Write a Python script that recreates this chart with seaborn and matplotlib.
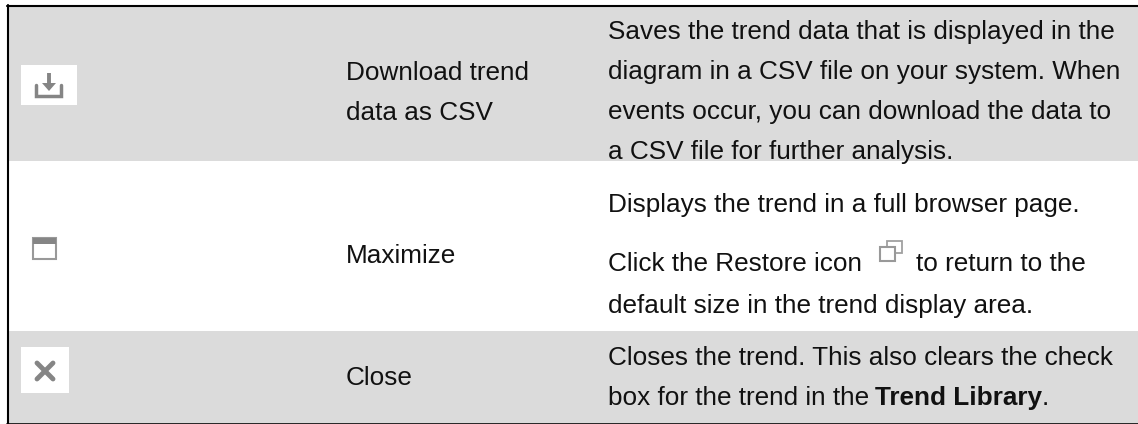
import numpy as np
import matplotlib
matplotlib.use('Agg')
import matplotlib.pyplot as plt
from matplotlib.patches import Rectangle, Polygon
import seaborn as sns

# row shading of the table, 1 = grey, 0 = white
ROW_SHADE = [1, 0, 1]
ROW_HEIGHTS = [154, 170, 92]
GREY = '#dbdbdb'
ICON = '#858585'

COL2 = ["Download trend", "data as CSV", "Maximize", "Close"]
COL2_Y = [80, 120, 263, 385]
COL3 = ["Saves the trend data that is displayed in the",
        "diagram in a CSV file on your system. When",
        "events occur, you can download the data to",
        "a CSV file for further analysis.",
        "Displays the trend in a full browser page.",
        "Click the Restore icon",
        "default size in the trend display area.",
        "Closes the trend. This also clears the check",
        "box for the trend in the"]
COL3_Y = [39, 79, 119, 159, 212, 271, 313, 365, 405]

sns.set_theme(style='white')
plt.rcParams['font.family'] = ['Liberation Sans', 'DejaVu Sans']
FS = 18.8

fig = plt.figure(figsize=(11.38, 4.24), dpi=100)
ax = fig.add_axes([8 / 1138, 1 / 424, 1130 / 1138, 416 / 424])
cells = np.repeat(ROW_SHADE, ROW_HEIGHTS).reshape(-1, 1)
sns.heatmap(cells, ax=ax, cmap=['white', GREY], vmin=0, vmax=1, cbar=False,
            xticklabels=False, yticklabels=False)

# overlay in image pixels
ov = fig.add_axes([0, 0, 1, 1])
ov.set_xlim(0, 1138)
ov.set_ylim(424, 0)
ov.axis('off')
ov.patch.set_alpha(0)


def text(x, y, s, **kw):
    return ov.text(x, y, s, fontsize=FS, color='#111111', va='baseline', ha='left', **kw)


# border
ov.plot([8, 8], [5, 424], color='black', lw=1.5)
ov.plot([7, 1138], [6, 6], color='black', lw=1.5)
ov.plot([7, 1138], [423.5, 423.5], color='black', lw=1.2)

for s, y in zip(COL2, COL2_Y):
    text(346, y, s)
for s, y in zip(COL3, COL3_Y):
    last = text(608, y, s)
text(916, 271, "to return to the")
fig.canvas.draw()
bold = text(last.get_window_extent().x1 + 6, 405, "Trend Library", fontweight='bold')
fig.canvas.draw()
text(bold.get_window_extent().x1, 405, ".")

# download icon
ov.add_patch(Rectangle((21, 65), 56, 40, color='white', lw=0))
ov.plot([36.5, 36.5, 61.5, 61.5], [85, 95.5, 95.5, 85], color=ICON, lw=2.5, solid_joinstyle='miter')
ov.plot([49, 49], [73, 84], color=ICON, lw=2.8, solid_capstyle='butt')
ov.add_patch(Polygon([[42, 83], [56, 83], [49, 91]], color=ICON, lw=0))

# maximize icon
ov.add_patch(Rectangle((33.5, 238), 23, 21, fill=False, ec='#999999', lw=1.5))
ov.add_patch(Rectangle((33.5, 238), 23, 6, color=ICON, lw=0))

# close icon
ov.add_patch(Rectangle((21, 347), 48, 46, color='white', lw=0))
ov.plot([37, 53], [363, 379], color=ICON, lw=3.5)
ov.plot([53, 37], [363, 379], color=ICON, lw=3.5)

# restore icon
ov.add_patch(Rectangle((887, 241), 15, 12, fill=False, ec='#a0a0a0', lw=1.3))
ov.add_patch(Rectangle((880, 247), 15, 14, facecolor='white', ec='#999999', lw=1.5))

fig.savefig('out.png', dpi=100)
